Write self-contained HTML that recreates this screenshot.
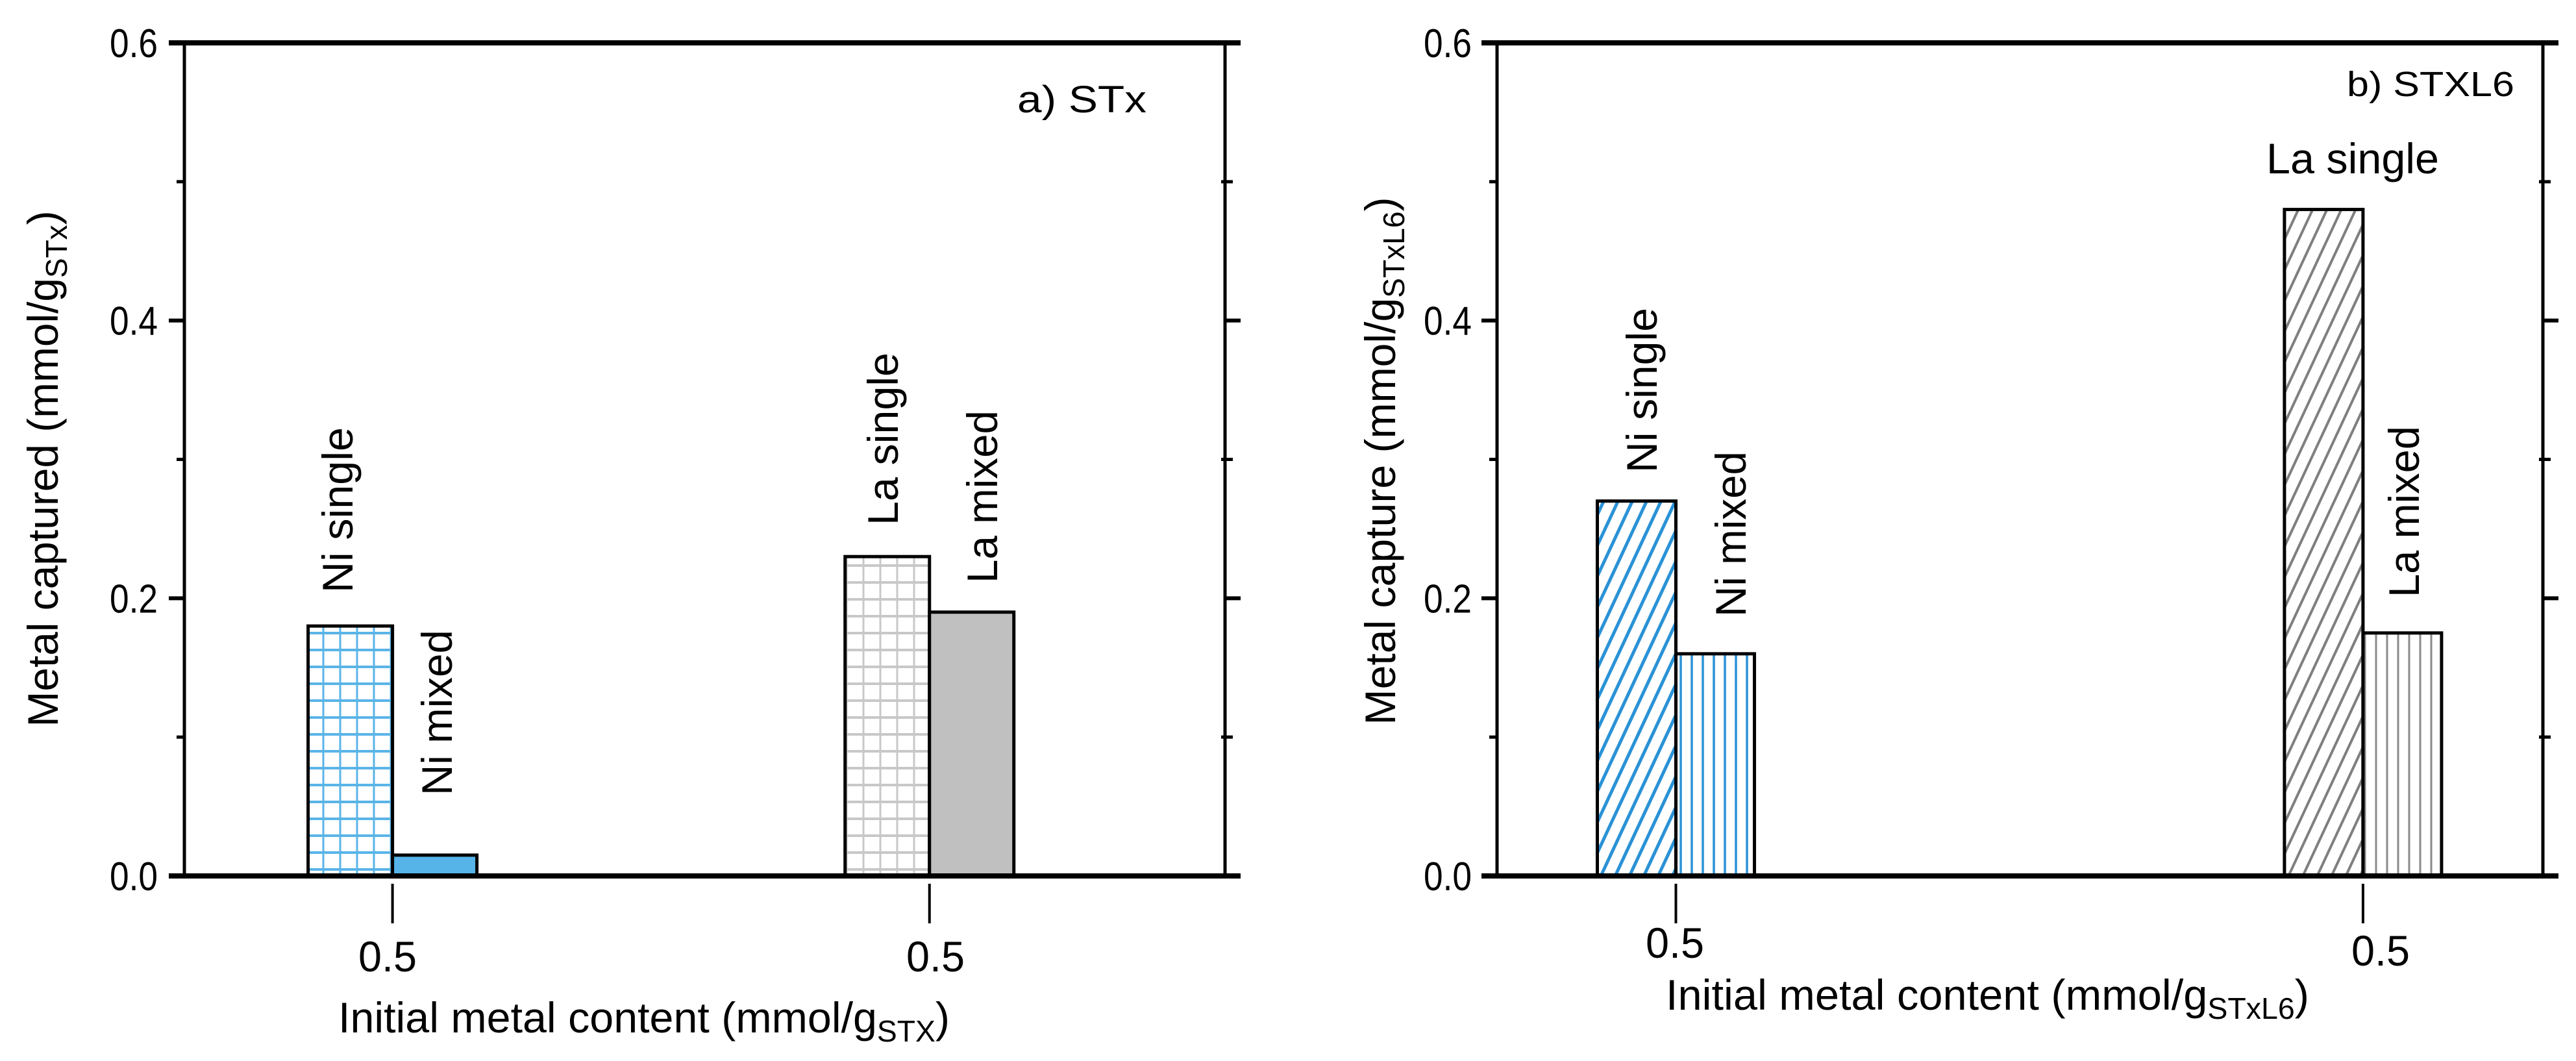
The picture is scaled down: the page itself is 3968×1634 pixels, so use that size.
<!DOCTYPE html>
<html><head><meta charset="utf-8">
<style>
html,body{margin:0;padding:0;background:#fff;}
svg{display:block;}
text{font-family:"Liberation Sans",Arial,sans-serif;fill:#000;}
</style></head>
<body>
<svg id="chart" width="3968" height="1634" viewBox="0 0 3968 1634" xmlns="http://www.w3.org/2000/svg">
<defs>
  <pattern id="pBlueGrid" patternUnits="userSpaceOnUse" width="26" height="26">
    <rect width="26" height="26" fill="#fff"/>
    <line x1="4" y1="0" x2="4" y2="26" stroke="#5ab4e8" stroke-width="3"/>
    <line x1="0" y1="13" x2="26" y2="13" stroke="#5ab4e8" stroke-width="4"/>
  </pattern>
  <pattern id="pGreyGrid" patternUnits="userSpaceOnUse" width="26" height="26">
    <rect width="26" height="26" fill="#fff"/>
    <line x1="4" y1="0" x2="4" y2="26" stroke="#c8c8c8" stroke-width="3"/>
    <line x1="0" y1="13" x2="26" y2="13" stroke="#c8c8c8" stroke-width="4"/>
  </pattern>
  <pattern id="pBlueDiag" patternUnits="userSpaceOnUse" width="20" height="20" patternTransform="rotate(25)">
    <rect width="20" height="20" fill="#fff"/>
    <line x1="5" y1="0" x2="5" y2="20" stroke="#2a92d6" stroke-width="5"/>
  </pattern>
  <pattern id="pGreyDiag" patternUnits="userSpaceOnUse" width="20" height="20" patternTransform="rotate(25)">
    <rect width="20" height="20" fill="#fff"/>
    <line x1="5" y1="0" x2="5" y2="20" stroke="#7f7f7f" stroke-width="4"/>
  </pattern>
  <pattern id="pBlueVert" patternUnits="userSpaceOnUse" width="17" height="17">
    <rect width="17" height="17" fill="#fff"/>
    <line x1="5" y1="0" x2="5" y2="17" stroke="#2a92d6" stroke-width="3.5"/>
  </pattern>
  <pattern id="pGreyVert" patternUnits="userSpaceOnUse" width="17" height="17">
    <rect width="17" height="17" fill="#fff"/>
    <line x1="5" y1="0" x2="5" y2="17" stroke="#8a8a8a" stroke-width="3"/>
  </pattern>
</defs>
</svg>
<script>
// ---- data ----
const yTickValues = [0.0, 0.2, 0.4, 0.6];
const yTickLabels = ["0.0", "0.2", "0.4", "0.6"];
const yMinorValues = [0.1, 0.3, 0.5];
const categoryLabels = ["0.5", "0.5"];
const seriesNamesA = ["Ni single", "Ni mixed", "La single", "La mixed"];
const valuesA = [0.18, 0.015, 0.23, 0.19];
const seriesNamesB = ["Ni single", "Ni mixed", "La single", "La mixed"];
const valuesB = [0.27, 0.16, 0.48, 0.175];

const NS = "http://www.w3.org/2000/svg";
const svg = document.getElementById("chart");
function el(tag, attrs, parent) {
  const e = document.createElementNS(NS, tag);
  for (const k in attrs) e.setAttribute(k, attrs[k]);
  (parent || svg).appendChild(e);
  return e;
}

const panels = [
  { key: "a", L: 284, R: 1887, T: 66, B: 1349, groupFrac: [0.2, 0.716], barW: 130,
    values: valuesA, names: seriesNamesA,
    fills: ["url(#pBlueGrid)", "#56b4e9", "url(#pGreyGrid)", "#c0c0c0"],
    tickLabelRight: 243,
    catLabelPos: [[597, 1496], [1441, 1496]],
    xTitle: { x: 521, y: 1590, len: 942, main: "Initial metal content (mmol/g", sub: "STX", end: ")" },
    yTitle: { cx: 67, cy: 722, len: 795, main: "Metal captured (mmol/g", sub: "STx", end: ")" },
    tag: { text: "a) STx", x: 1567, y: 173, len: 199, size: 58 },
    ann: [["Ni single", 520, 913, 255, true], ["Ni mixed", 673, 1225, 255, true], ["La single", 1360, 809, 266, true], ["La mixed", 1513, 898, 266, true]]
  },
  { key: "b", L: 2306, R: 3917, T: 66, B: 1349, groupFrac: [0.171, 0.828], barW: 121,
    values: valuesB, names: seriesNamesB,
    fills: ["url(#pBlueDiag)", "url(#pBlueVert)", "url(#pGreyDiag)", "url(#pGreyVert)"],
    tickLabelRight: 2267,
    catLabelPos: [[2580, 1475], [3667, 1487]],
    xTitle: { x: 2566, y: 1555, len: 991, main: "Initial metal content (mmol/g", sub: "STxL6", end: ")" },
    yTitle: { cx: 2127, cy: 710, len: 813, main: "Metal capture  (mmol/g", sub: "STxL6", end: ")" },
    tag: { text: "b) STXL6", x: 3615, y: 148, len: 258, size: 54 },
    ann: [["Ni single", 2529, 728, 254, true], ["Ni mixed", 2666, 950, 255, true], ["La single", 3491, 267, 266, false], ["La mixed", 3703, 920, 264, true]]
  }
];

panels.forEach(p => {
  const yMax = 0.6;
  const y = v => p.B - (v / yMax) * (p.B - p.T);
  const x = f => p.L + f * (p.R - p.L);
  const g = el("g", {});
  
  

  // bars
  p.values.forEach((v, i) => {
    const grp = Math.floor(i / 2), side = i % 2;
    const cx = x(p.groupFrac[grp]);
    const bx = cx - p.barW + side * p.barW;
    const r = el("rect", { x: bx, y: y(v), width: p.barW, height: y(0) - y(v), fill: p.fills[i], stroke: "#000", "stroke-width": 5 }, g);
    
    
  });

  // frame
  const frame = el("g", {}, g);
  
  
  el("line", { x1: p.L - 24, y1: p.T, x2: p.R + 24, y2: p.T, stroke: "#000", "stroke-width": 8 }, frame);
  el("line", { x1: p.L - 24, y1: p.B, x2: p.R + 24, y2: p.B, stroke: "#000", "stroke-width": 8 }, frame);
  el("line", { x1: p.L, y1: p.T, x2: p.L, y2: p.B, stroke: "#000", "stroke-width": 5 }, frame);
  el("line", { x1: p.R, y1: p.T, x2: p.R, y2: p.B, stroke: "#000", "stroke-width": 5 }, frame);

  // y ticks
  yTickValues.forEach((v, i) => {
    el("line", { x1: p.L - 24, y1: y(v), x2: p.L, y2: y(v), stroke: "#000", "stroke-width": 6 }, g);
    el("line", { x1: p.R, y1: y(v), x2: p.R + 24, y2: y(v), stroke: "#000", "stroke-width": 6 }, g);
    const t = el("text", { x: p.tickLabelRight, y: y(v) + 22, "font-size": 62, "text-anchor": "end", textLength: 74, lengthAdjust: "spacingAndGlyphs" }, g);
    t.textContent = yTickLabels[i];
    
    
  });
  yMinorValues.forEach(v => {
    el("line", { x1: p.L - 12, y1: y(v), x2: p.L, y2: y(v), stroke: "#000", "stroke-width": 5 }, g);
    el("line", { x1: p.R - 6, y1: y(v), x2: p.R + 12, y2: y(v), stroke: "#000", "stroke-width": 5 }, g);
  });

  // x ticks + labels
  p.groupFrac.forEach((f, i) => {
    el("line", { x1: x(f), y1: p.B + 12, x2: x(f), y2: p.B + 73, stroke: "#000", "stroke-width": 4 }, g);
    const t = el("text", { x: p.catLabelPos[i][0], y: p.catLabelPos[i][1], "font-size": 66, "text-anchor": "middle", textLength: 90, lengthAdjust: "spacingAndGlyphs" }, g);
    t.textContent = categoryLabels[i];
    
    
  });

  // x title
  const xt = el("text", { x: p.xTitle.x, y: p.xTitle.y, "font-size": 66, textLength: p.xTitle.len, lengthAdjust: "spacingAndGlyphs" }, g);
  
  
  xt.innerHTML = p.xTitle.main + '<tspan font-size="46" dy="14">' + p.xTitle.sub + '</tspan><tspan dy="-14">' + p.xTitle.end + '</tspan>';

  // y title
  const yt = el("text", { x: p.yTitle.cx, y: p.yTitle.cy, "font-size": 66, "text-anchor": "middle", textLength: p.yTitle.len, lengthAdjust: "spacingAndGlyphs", transform: "rotate(-90 " + p.yTitle.cx + " " + p.yTitle.cy + ")", dy: 22 }, g);
  
  
  yt.innerHTML = p.yTitle.main + '<tspan font-size="46" dy="14">' + p.yTitle.sub + '</tspan><tspan dy="-14">' + p.yTitle.end + '</tspan>';

  // panel tag
  const tg = el("text", { x: p.tag.x, y: p.tag.y, "font-size": p.tag.size, textLength: p.tag.len, lengthAdjust: "spacingAndGlyphs" }, g);
  tg.textContent = p.tag.text;
  
  

  // annotations
  p.ann.forEach(a => {
    let t;
    if (a[4]) {
      t = el("text", { x: a[1] + 23, y: a[2], "font-size": 66, textLength: a[3], lengthAdjust: "spacingAndGlyphs", transform: "rotate(-90 " + (a[1] + 23) + " " + a[2] + ")" }, g);
    } else {
      t = el("text", { x: a[1], y: a[2], "font-size": 66, textLength: a[3], lengthAdjust: "spacingAndGlyphs" }, g);
    }
    t.textContent = a[0];
    
    
  });
});
</script>
</body></html>
